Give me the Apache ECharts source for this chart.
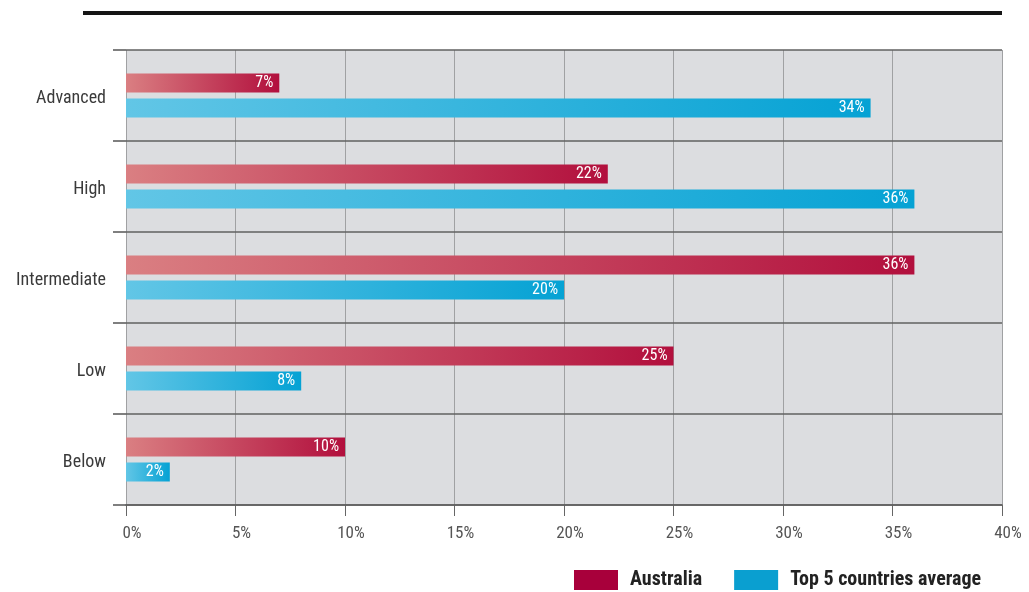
<!DOCTYPE html>
<html>
<head>
<meta charset="utf-8">
<style>
  html, body { margin: 0; padding: 0; background: #ffffff; }
  #chart { width: 1029px; height: 592px; }
</style>
<script src="https://cdn.jsdelivr.net/npm/echarts@6/dist/echarts.min.js"></script>
</head>
<body>
<div id="chart"></div>
<script>
// Proficiency levels, top to bottom
const categories = ['Advanced', 'High', 'Intermediate', 'Low', 'Below'];
// Share of students at each level (%)
const australia = [7, 22, 36, 25, 10];
const top5Average = [34, 36, 20, 8, 2];
const seriesNames = ['Australia', 'Top 5 countries average'];

const narrow = '"Roboto Condensed", "Liberation Sans Narrow", "Arial Narrow", "DejaVu Sans Condensed", sans-serif';

function hGrad(from, to) {
  return new echarts.graphic.LinearGradient(0, 0, 1, 0, [
    { offset: 0, color: from },
    { offset: 1, color: to }
  ]);
}

const chart = echarts.init(document.getElementById('chart'), null, { renderer: 'canvas' });

const barLabel = {
  show: true,
  position: 'insideRight',
  distance: 6,
  color: '#ffffff',
  fontFamily: narrow,
  fontSize: 16,
  formatter: p => p.value + '%'
};

chart.setOption({
  animation: false,
  backgroundColor: '#ffffff',
  graphic: [
    {
      type: 'rect',
      shape: { x: 83, y: 11, width: 919, height: 4 },
      style: { fill: '#151515' }
    }
  ],
  grid: {
    left: 126, right: 27, top: 50, bottom: 87,
    show: true, backgroundColor: '#dcdde0', borderWidth: 0
  },
  legend: {
    left: 574, top: 570, padding: 0,
    itemWidth: 44, itemHeight: 20, itemGap: 32,
    icon: 'rect',
    textStyle: {
      fontFamily: narrow, fontSize: 20, fontWeight: 'bold', color: '#222',
      lineHeight: 20, padding: [0, 0, 0, 7]
    },
    data: [
      { name: seriesNames[0], itemStyle: { color: '#a8003b' } },
      { name: seriesNames[1], itemStyle: { color: '#0a9fd0' } }
    ]
  },
  xAxis: {
    type: 'value',
    min: 0, max: 40, interval: 5,
    axisLine: { show: true, lineStyle: { color: '#555', width: 1.5 } },
    axisTick: { show: true, length: 11, lineStyle: { color: '#666', width: 1 } },
    axisLabel: {
      formatter: '{value}%', color: '#555', fontFamily: narrow, fontSize: 17, margin: 20,
      padding: [0, 0, 0, 12]
    },
    splitLine: { show: true, lineStyle: { color: '#a0a1a3', width: 1 } }
  },
  yAxis: {
    type: 'category',
    inverse: true,
    data: categories,
    axisLine: { show: false },
    axisTick: { show: true, length: 13, lineStyle: { color: '#555', width: 1.5 } },
    axisLabel: {
      margin: 20,
      formatter: v => '{lvl|' + v + '}',
      rich: {
        lvl: {
          color: '#3a3a3a', fontFamily: narrow, fontSize: 18,
          padding: [6, 0, 0, 0]
        }
      }
    },
    splitLine: { show: true, lineStyle: { color: '#606060', width: 1.5 } },
    z: 3
  },
  series: [
    {
      name: seriesNames[0],
      type: 'bar',
      data: australia,
      barWidth: 19,
      barGap: '32%',
      itemStyle: { color: hGrad('#da7f82', '#b20f3d') },
      label: barLabel
    },
    {
      name: seriesNames[1],
      type: 'bar',
      data: top5Average,
      barWidth: 19,
      itemStyle: { color: hGrad('#62c6e6', '#05a2d4') },
      label: barLabel
    }
  ]
});
</script>
</body>
</html>
